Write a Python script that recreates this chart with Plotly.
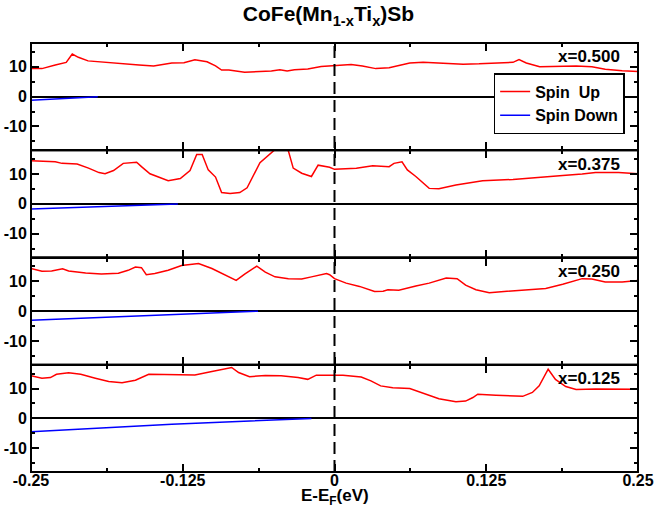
import plotly.graph_objects as go
from plotly.subplots import make_subplots

# compositions, top panel first
labels = ["x=0.500", "x=0.375", "x=0.250", "x=0.125"]

# spin up DOS, x=0.500
up_x_500 = [-0.25, -0.241, -0.230, -0.221, -0.216, -0.211, -0.203, -0.194, -0.183, -0.172,
            -0.161, -0.149, -0.142, -0.134, -0.124, -0.115, -0.105, -0.098, -0.093, -0.087,
            -0.074, -0.063, -0.052, -0.045, -0.039, -0.033, -0.022, -0.011, 0.0, 0.0137,
            0.023, 0.034, 0.045, 0.062, 0.073, 0.086, 0.106, 0.119, 0.138, 0.147,
            0.152, 0.158, 0.169, 0.182, 0.199, 0.212, 0.223, 0.237, 0.25]
up_y_500 = [9.4, 9.4, 10.6, 11.5, 14.3, 13.2, 12.0, 11.7, 11.3, 10.8,
            10.6, 10.3, 10.7, 11.3, 11.4, 12.4, 11.7, 10.3, 8.9, 8.9,
            8.2, 8.4, 8.6, 9.0, 8.6, 9.0, 9.3, 10.1, 10.3, 10.8,
            10.3, 9.4, 9.7, 11.3, 11.5, 11.3, 10.9, 11.0, 11.3, 11.5,
            12.4, 11.3, 10.0, 10.1, 10.3, 10.0, 9.2, 8.7, 8.4]
dn_x_500 = [-0.25, -0.23, -0.21, -0.195]
dn_y_500 = [-1.2, -0.8, -0.4, 0.0]

# x=0.375
up_x_375 = [-0.25, -0.241, -0.230, -0.2245, -0.212, -0.2026, -0.194, -0.189, -0.182, -0.174,
            -0.163, -0.159, -0.152, -0.145, -0.137, -0.127, -0.119, -0.1135, -0.109, -0.104,
            -0.098, -0.093, -0.086, -0.078, -0.072, -0.0614, -0.050, -0.044, -0.038, -0.034,
            -0.027, -0.019, -0.0135, -0.004, 0.0, 0.018, 0.0315, 0.045, 0.049, 0.0556,
            0.060, 0.067, 0.078, 0.086, 0.100, 0.122, 0.147, 0.166, 0.188, 0.204,
            0.215, 0.234, 0.25]
up_y_375 = [14.5, 14.3, 14.1, 13.6, 13.4, 12.0, 10.5, 10.1, 11.2, 13.6,
            14.0, 12.5, 10.1, 9.0, 7.8, 8.5, 11.2, 16.6, 16.6, 11.4,
            9.0, 3.8, 3.5, 3.8, 5.4, 13.8, 17.8, 20.0, 17.8, 12.0,
            10.3, 9.2, 13.0, 12.3, 11.6, 12.0, 12.8, 12.5, 13.6, 14.1,
            11.4, 9.2, 5.2, 5.1, 6.3, 7.8, 8.2, 8.7, 9.5, 10.0,
            10.5, 10.5, 10.1]
dn_x_375 = [-0.25, -0.19, -0.129]
dn_y_375 = [-1.7, -0.8, 0.0]

# x=0.250
up_x_250 = [-0.25, -0.241, -0.233, -0.224, -0.219, -0.205, -0.192, -0.178, -0.170, -0.164,
            -0.159, -0.155, -0.148, -0.137, -0.126, -0.112, -0.101, -0.090, -0.081, -0.074,
            -0.064, -0.057, -0.049, -0.038, -0.027, -0.019, -0.0066, -0.004, 0.0, 0.0096,
            0.0206, 0.033, 0.040, 0.044, 0.053, 0.067, 0.078, 0.092, 0.101, 0.108,
            0.1165, 0.1275, 0.141, 0.160, 0.174, 0.188, 0.204, 0.212, 0.223, 0.237,
            0.25]
up_y_250 = [14.3, 13.4, 13.5, 14.2, 13.5, 12.8, 12.5, 12.7, 13.7, 14.8,
            14.6, 12.2, 12.6, 13.7, 15.3, 16.0, 14.3, 12.0, 10.3, 12.4,
            15.1, 13.1, 11.5, 10.9, 10.8, 11.5, 12.6, 12.2, 10.9, 9.4,
            8.3, 6.6, 6.7, 7.2, 7.0, 8.4, 9.4, 11.1, 10.9, 8.7,
            7.2, 6.2, 6.6, 7.2, 7.6, 9.0, 10.9, 10.8, 9.8, 9.8,
            10.3]
dn_x_250 = [-0.25, -0.156, -0.063]
dn_y_250 = [-3.1, -1.6, 0.0]

# x=0.125
up_x_125 = [-0.25, -0.241, -0.234, -0.229, -0.219, -0.209, -0.197, -0.186, -0.175, -0.164,
            -0.153, -0.140, -0.126, -0.115, -0.101, -0.0847, -0.079, -0.070, -0.057, -0.044,
            -0.030, -0.022, -0.015, 0.0, 0.007, 0.022, 0.030, 0.038, 0.048, 0.062,
            0.070, 0.086, 0.100, 0.108, 0.114, 0.118, 0.133, 0.155, 0.163, 0.1686,
            0.176, 0.182, 0.1905, 0.199, 0.215, 0.232, 0.25]
up_y_125 = [14.3, 13.5, 13.7, 14.8, 15.3, 14.8, 13.5, 12.4, 12.0, 12.8,
            14.8, 14.7, 14.5, 14.6, 15.7, 17.1, 15.4, 14.0, 14.4, 14.3,
            13.7, 13.1, 14.5, 14.6, 14.5, 13.9, 12.6, 10.9, 10.3, 10.0,
            8.9, 6.6, 5.6, 5.8, 7.0, 8.1, 7.8, 7.4, 8.7, 10.9,
            16.5, 13.1, 10.7, 9.7, 9.9, 9.9, 9.8]
dn_x_125 = [-0.25, -0.134, -0.019]
dn_y_125 = [-4.5, -2.0, 0.0]

panels = [
    (up_x_500, up_y_500, dn_x_500, dn_y_500),
    (up_x_375, up_y_375, dn_x_375, dn_y_375),
    (up_x_250, up_y_250, dn_x_250, dn_y_250),
    (up_x_125, up_y_125, dn_x_125, dn_y_125),
]

x_ticks = [-0.25, -0.125, 0, 0.125, 0.25]
x_ticktext = ["-0.25", "-0.125", "0", "0.125", "0.25"]
y_ticks = [-10, 0, 10]
y_ticktext = ["-10", "0", "10"]

FONT = "Liberation Sans"

fig = make_subplots(rows=4, cols=1, shared_xaxes=True, vertical_spacing=0)

for i, (ux, uy, dx, dy) in enumerate(panels):
    row = i + 1
    fig.add_trace(go.Scatter(x=ux, y=uy, mode="lines", name="Spin\u00a0 Up",
                             line=dict(color="#ff0000", width=1.5),
                             showlegend=(i == 0), legendrank=1), row=row, col=1)
    fig.add_trace(go.Scatter(x=dx, y=dy, mode="lines", name="Spin Down",
                             line=dict(color="#0000ff", width=1.5),
                             showlegend=(i == 0), legendrank=2), row=row, col=1)
    fig.add_annotation(text=labels[i], xref="x domain", yref="y domain",
                       x=0.973, y=0.87, xanchor="right", yanchor="middle",
                       showarrow=False,
                       font=dict(family=FONT, size=17, color="black", weight="bold"),
                       row=row, col=1)
    # panel frame
    fig.add_shape(type="rect", xref="x domain", yref="y domain",
                  x0=0, x1=1, y0=0, y1=1, line=dict(color="black", width=2),
                  row=row, col=1)

fig.update_xaxes(range=[-0.25, 0.25], tickvals=x_ticks, ticktext=x_ticktext,
                 ticks="inside", ticklen=8, tickwidth=1.5, tickcolor="black",
                 minor=dict(dtick=0.0625, tick0=0, ticks="inside", ticklen=4,
                            tickwidth=1.5, tickcolor="black"),
                 showline=True, linewidth=1, linecolor="black", mirror="ticks",
                 showgrid=False, zeroline=False, ticklabelstandoff=-6, automargin=False,
                 tickfont=dict(family=FONT, size=16, color="black", weight="bold"))
fig.update_yaxes(range=[-18, 18], tickvals=y_ticks, ticktext=y_ticktext,
                 ticks="inside", ticklen=8, tickwidth=1.5, tickcolor="black",
                 minor=dict(tickvals=[-15, -5, 5, 15], ticks="inside", ticklen=4,
                            tickwidth=1.5, tickcolor="black"),
                 showline=True, linewidth=1, linecolor="black", mirror="ticks",
                 showgrid=False, zeroline=True, zerolinewidth=2, zerolinecolor="black",
                 automargin=False,
                 tickfont=dict(family=FONT, size=16, color="black", weight="bold"))

# Fermi level
fig.add_shape(type="line", xref="x", yref="paper", x0=0, x1=0, y0=0, y1=1,
              line=dict(color="black", width=2, dash="12px,6px"))

fig.add_annotation(text="E-E<sub>F</sub>(eV)", xref="paper", yref="paper",
                   x=0.5, y=-0.058, xanchor="center", yanchor="middle", showarrow=False,
                   font=dict(family=FONT, size=17, color="black", weight="bold"))

fig.update_layout(
    width=657, height=517,
    margin=dict(l=31, r=19, t=43, b=45),
    paper_bgcolor="white", plot_bgcolor="white",
    title=dict(text="CoFe(Mn<sub>1-x</sub>Ti<sub>x</sub>)Sb", x=0.5, xanchor="center",
               y=0.973, yanchor="middle",
               font=dict(family=FONT, size=21, color="black", weight="bold")),
    legend=dict(x=0.978, y=0.93, xanchor="right", yanchor="top",
                bgcolor="white", bordercolor="black", borderwidth=1.5,
                font=dict(family=FONT, size=16, color="black", weight="bold"),
                itemwidth=30, tracegroupgap=0),
    showlegend=True,
)

fig.write_html("out.html", config={"displayModeBar": False},
               post_script="document.body.style.margin='0';")
